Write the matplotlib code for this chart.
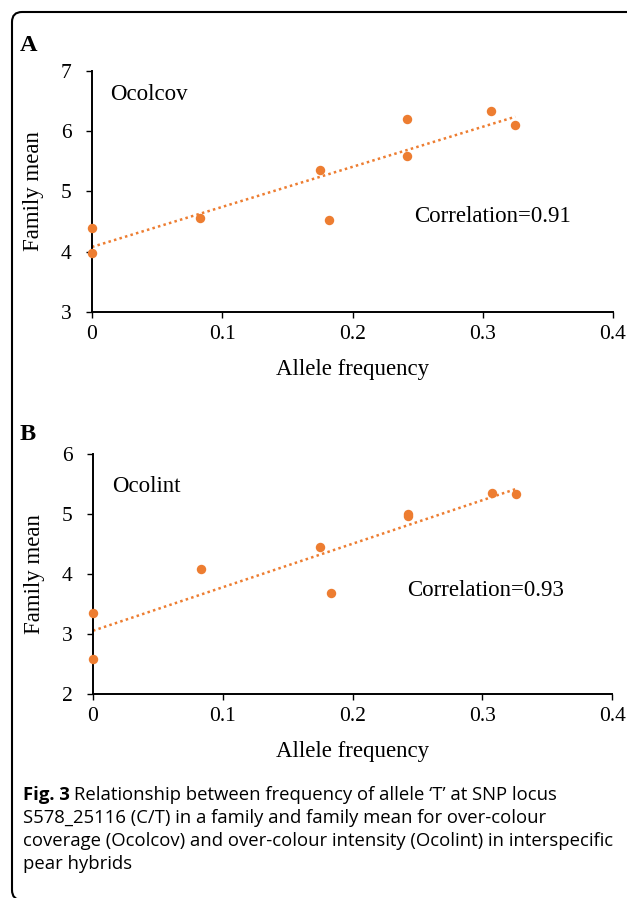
import numpy as np
import matplotlib
matplotlib.use("Agg")
import matplotlib.pyplot as plt
from matplotlib.patches import FancyBboxPatch
from matplotlib.transforms import IdentityTransform

# ---------------- data ----------------
freq_a = [0.0, 0.0, 0.083, 0.175, 0.182, 0.242, 0.242, 0.306, 0.325]
ocolcov = [4.40, 3.98, 4.55, 5.355, 4.52, 6.205, 5.583, 6.338, 6.10]

freq_b = [0.0, 0.0, 0.083, 0.175, 0.183, 0.243, 0.243, 0.307, 0.326]
ocolint = [3.36, 2.59, 4.09, 4.45, 3.69, 4.97, 5.00, 5.35, 5.33]

x_ticks = [0, 0.1, 0.2, 0.3, 0.4]
x_tick_labels = ["0", "0.1", "0.2", "0.3", "0.4"]
y_ticks_a = [3, 4, 5, 6, 7]
y_ticks_b = [2, 3, 4, 5, 6]

corr_a = "Correlation=0.91"
corr_b = "Correlation=0.93"

caption_lines = [
    "Relationship between frequency of allele \u2018T\u2019 at SNP locus",
    "S578_25116 (C/T) in a family and family mean for over-colour",
    "coverage (Ocolcov) and over-colour intensity (Ocolint) in interspecific",
    "pear hybrids",
]

ORANGE = "#ED7D31"
W, H = 627, 898

plt.rcParams["font.family"] = ["Liberation Serif", "DejaVu Serif"]

fig = plt.figure(figsize=(W / 100, H / 100), dpi=100)


def px_axes(left, right, top, bottom):
    return fig.add_axes([left / W, 1 - bottom / H, (right - left) / W, (bottom - top) / H])


def panel(ax, x, y, yticks, name, name_pos, corr, corr_pos):
    ax.plot(x, y, "o", color=ORANGE, markersize=6.8, markeredgewidth=0, zorder=3, clip_on=False)
    slope, icpt = np.polyfit(x, y, 1)
    xs = np.array([min(x), max(x)])
    ax.plot(xs, icpt + slope * xs, linestyle=(0, (1, 1.3)), color=ORANGE, lw=1.8, zorder=2)
    ax.set_xlim(0, 0.4)
    ax.set_ylim(yticks[0], yticks[-1])
    ax.set_xticks(x_ticks)
    ax.set_xticklabels(x_tick_labels)
    ax.set_yticks(yticks)
    for s in ["top", "right"]:
        ax.spines[s].set_visible(False)
    for s in ["left", "bottom"]:
        ax.spines[s].set_linewidth(1.4)
        ax.spines[s].set_color("black")
    ax.tick_params(axis="both", direction="out", length=4.5, width=1.0, labelsize=15.5, colors="black")
    ax.tick_params(axis="x", pad=5)
    ax.tick_params(axis="y", pad=10)
    ax.set_xlabel("Allele frequency", fontsize=16.5)
    ax.set_ylabel("Family mean", fontsize=16.5)
    ax.xaxis.set_label_coords(0.5, -0.24)
    ax.yaxis.set_label_coords(-0.113, 0.5)
    ax.yaxis.label.set_verticalalignment("center")
    ax.xaxis.label.set_verticalalignment("center")
    ax.patch.set_alpha(0)
    ax.text(name_pos[0], name_pos[1], name, fontsize=16.5, ha="left", va="center")
    ax.text(corr_pos[0], corr_pos[1], corr, fontsize=16.5, ha="left", va="center")


ax_a = px_axes(92, 613, 70.7, 312)
panel(ax_a, freq_a, ocolcov, y_ticks_a, "Ocolcov", (0.0138, 6.6), corr_a, (0.247, 4.58))

ax_b = px_axes(93, 612.3, 454.3, 694)
panel(ax_b, freq_b, ocolint, y_ticks_b, "Ocolint", (0.0147, 5.47), corr_b, (0.242, 3.73))

fig.text(20 / W, 1 - 51 / H, "A", fontsize=17.5, fontweight="bold", ha="left", va="baseline")
fig.text(20 / W, 1 - 440 / H, "B", fontsize=17.5, fontweight="bold", ha="left", va="baseline")

# caption
cap_family = ["Open Sans", "DejaVu Sans"]
cap_size = 13.3
line_y = [795, 818, 841, 864]
t0 = fig.text(23 / W, 1 - line_y[0] / H, "Fig. 3", fontsize=cap_size, family=cap_family,
              fontweight="bold", ha="left", va="center")
fig.canvas.draw()
bb = t0.get_window_extent()
fig.text((bb.x1 + 4) / W, 1 - line_y[0] / H, caption_lines[0], fontsize=cap_size,
         family=cap_family, ha="left", va="center")
for i in range(1, 4):
    fig.text(23 / W, 1 - line_y[i] / H, caption_lines[i], fontsize=cap_size,
             family=cap_family, ha="left", va="center")

# frame with rounded corners (display/pixel coordinates)
frame = FancyBboxPatch((12, -2), 640, 888, boxstyle="round,pad=0,rounding_size=10",
                       transform=IdentityTransform(), fill=False, edgecolor="black",
                       linewidth=1.5)
fig.patches.append(frame)

fig.savefig("out.png", dpi=100)
